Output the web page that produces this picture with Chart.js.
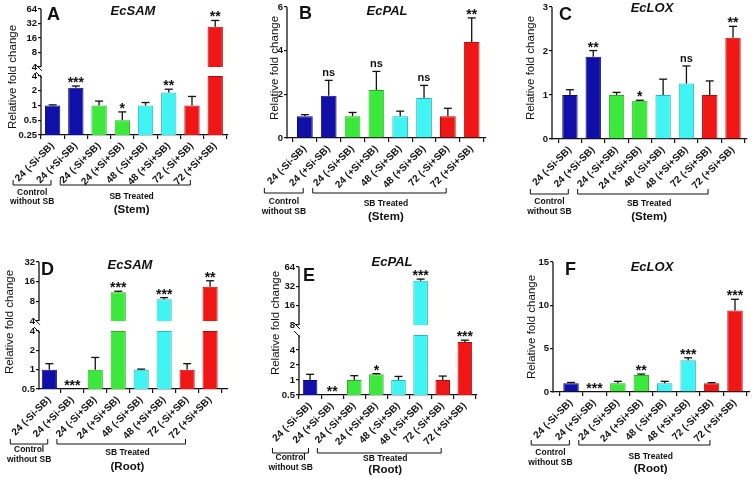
<!DOCTYPE html>
<html>
<head>
<meta charset="utf-8">
<script src="https://cdn.jsdelivr.net/npm/chart.js"></script>
<style>
  html, body { margin: 0; padding: 0; background: #fff; }
  #wrap { position: relative; width: 755px; height: 479px; overflow: hidden; }
  canvas { position: absolute; }
</style>
</head>
<body>
<div id="wrap">
  <canvas id="pA" width="250" height="240" style="left:0;top:0"></canvas>
  <canvas id="pB" width="250" height="240" style="left:250px;top:0"></canvas>
  <canvas id="pC" width="255" height="240" style="left:500px;top:0"></canvas>
  <canvas id="pD" width="250" height="239" style="left:0;top:240px"></canvas>
  <canvas id="pE" width="250" height="239" style="left:250px;top:240px"></canvas>
  <canvas id="pF" width="255" height="239" style="left:500px;top:240px"></canvas>
</div>
<script>
const FONT = '"Liberation Sans", Arial, sans-serif';

const categories = ['24 (-Si-SB)', '24 (+Si-SB)', '24 (-Si+SB)', '24 (+Si+SB)',
  '48 (-Si+SB)', '48 (+Si+SB)', '72 (-Si+SB)', '72 (+Si+SB)'];
const barColors = ['#1010a8', '#1010a8', '#3de83d', '#3de83d', '#40f4f4', '#40f4f4', '#f01616', '#f01616'];
const barEdges = ['#0a0a70', '#0a0a70', '#28b028', '#28b028', '#28b8b8', '#28b8b8', '#b00e0e', '#b00e0e'];

// (Stem)
const samStemVals = [1.0, 2.3, 1.0, 0.5, 1.0, 1.85, 1.0, 27.5];
const samStemErr = [1.03, 2.5, 1.23, 0.74, 1.15, 2.15, 1.53, 37];
const samStemSig = ['', '***', '', '*', '', '**', '', '**'];
const samStemTicksLo = [0.25, 0.5, 1, 2, 4];
const samStemTicksHi = [4, 8, 16, 32, 64];

const palStemVals = [1.0, 1.94, 1.0, 2.2, 1.0, 1.83, 1.0, 4.4];
const palStemErr = [1.07, 2.64, 1.17, 3.05, 1.23, 2.41, 1.36, 5.5];
const palStemSig = ['', 'ns', '', 'ns', '', 'ns', '', '**'];
const palStemTicks = [0, 2, 4, 6];

const loxStemVals = [1.0, 1.87, 1.0, 0.87, 1.0, 1.26, 1.0, 2.3];
const loxStemErr = [1.12, 2.01, 1.06, 0.88, 1.36, 1.66, 1.32, 2.56];
const loxStemSig = ['', '**', '', '*', '', 'ns', '', '**'];
const loxStemTicks = [0, 1, 2, 3];

// (Root)
const samRootVals = [1.0, 0, 1.0, 11.0, 1.0, 8.6, 1.0, 13.3];
const samRootErr = [1.24, 0, 1.55, 11.4, 1.02, 9.1, 1.24, 16.5];
const samRootSig = ['', '***', '', '***', '', '***', '', '**'];
const samRootTicksLo = [0.5, 1, 2, 4];
const samRootTicksHi = [4, 8, 16, 32];

const palRootVals = [1.0, 0, 1.0, 1.3, 1.0, 39, 1.0, 5.8];
const palRootErr = [1.3, 0, 1.22, 1.34, 1.18, 41.5, 1.2, 6.3];
const palRootSig = ['', '**', '', '*', '', '***', '', '***'];
const palRootTicksLo = [0.5, 1, 2, 4];
const palRootTicksHi = [8, 16, 32, 64];

const loxRootVals = [1.0, 0, 1.0, 1.96, 1.0, 3.65, 1.0, 9.4];
const loxRootErr = [1.1, 0, 1.23, 2.07, 1.23, 3.95, 1.08, 10.7];
const loxRootSig = ['', '***', '', '**', '', '***', '', '***'];
const loxRootTicks = [0, 5, 10, 15];

// group brackets under the x labels, in category units
const groupControl = [-1.7, -0.07];
const groupTreated = [0.33, 5.93];

const panels = [
  { id: 'pA', x: 0, y: 0, w: 250, h: 240, area: [41, 9, 228, 135], xRange: [-0.5, 7.55],
    letter: 'A', letterX: 6, letterY: 11, gene: 'EcSAM', geneX: 133, geneY: 11, tissue: '(Stem)',
    yTitleX: 13, yTitleY: 77, bY: 45, gY: [13, 22, 17, 30],
    vals: samStemVals, errs: samStemErr, sig: samStemSig,
    lo: { type: 'logarithmic', min: 0.25, max: 4, ticks: samStemTicksLo, weight: 59 },
    hi: { min: 2.6, base: 4, max: 64, ticks: samStemTicksHi, weight: 67 } },
  { id: 'pB', x: 250, y: 0, w: 250, h: 240, area: [287, 7, 486, 138], xRange: [-0.75, 7.6],
    letter: 'B', letterX: 12, letterY: 12, gene: 'EcPAL', geneX: 137, geneY: 11, tissue: '(Stem)',
    yTitleX: 25, yTitleY: 68, bY: 50, gY: [14, 24, 16, 29],
    vals: palStemVals, errs: palStemErr, sig: palStemSig,
    lo: { type: 'linear', min: 0, max: 6, ticks: palStemTicks } },
  { id: 'pC', x: 500, y: 0, w: 255, h: 240, area: [552, 7, 747, 139], xRange: [-0.77, 7.6],
    letter: 'C', letterX: 7, letterY: 13, gene: 'EcLOX', geneX: 152, geneY: 8, tissue: '(Stem)',
    yTitleX: 31, yTitleY: 68, bY: 50, gY: [13, 23, 15, 28],
    vals: loxStemVals, errs: loxStemErr, sig: loxStemSig,
    lo: { type: 'linear', min: 0, max: 3, ticks: loxStemTicks } },
  { id: 'pD', x: 0, y: 240, w: 250, h: 239, area: [39, 262, 228, 389], xRange: [-0.45, 7.78],
    letter: 'D', letterX: 2, letterY: 13, gene: 'EcSAM', geneX: 130, geneY: 25, tissue: '(Root)',
    yTitleX: 10, yTitleY: 82, bY: 50, gY: [11, 21, 14, 28],
    vals: samRootVals, errs: samRootErr, sig: samRootSig,
    lo: { type: 'logarithmic', min: 0.5, max: 4, ticks: samRootTicksLo, weight: 58 },
    hi: { min: 2.8, base: 4, max: 32, ticks: samRootTicksHi, weight: 69 } },
  { id: 'pE', x: 250, y: 240, w: 250, h: 239, area: [299, 267, 477, 395], xRange: [-0.5, 7.55],
    letter: 'E', letterX: 4, letterY: 14, gene: 'EcPAL', geneX: 142, geneY: 22, tissue: '(Root)',
    yTitleX: 26, yTitleY: 83, bY: 53, gY: [10, 20, 11, 22],
    vals: palRootVals, errs: palRootErr, sig: palRootSig,
    lo: { type: 'logarithmic', min: 0.5, max: 8, ticks: palRootTicksLo, weight: 60 },
    hi: { min: 5.6, base: 8, max: 64, ticks: palRootTicksHi, weight: 68 } },
  { id: 'pF', x: 500, y: 240, w: 255, h: 239, area: [553, 262, 750, 392], xRange: [-0.77, 7.64],
    letter: 'F', letterX: 12, letterY: 13, gene: 'EcLOX', geneX: 152, geneY: 27, tissue: '(Root)',
    yTitleX: 32, yTitleY: 87, bY: 48, gY: [13, 23, 17, 29],
    vals: loxRootVals, errs: loxRootErr, sig: loxRootSig,
    lo: { type: 'linear', min: 0, max: 15, ticks: loxRootTicks } }
];

function line(ctx, x1, y1, x2, y2) {
  ctx.beginPath();
  ctx.moveTo(x1, y1);
  ctx.lineTo(x2, y2);
  ctx.stroke();
}

// axis lines, breaks, error bars, stars, titles and group brackets
function decor(p) {
  return {
    id: 'decor',
    afterDraw(chart) {
      const ctx = chart.ctx;
      const ca = chart.chartArea;
      const xs = chart.scales.x;
      const yLo = chart.scales.yLo;
      const yHi = chart.scales.yHi;
      const yOf = v => {
        if (v <= 0) return ca.bottom;
        if (yHi && v > p.lo.max) return yHi.getPixelForValue(v);
        return yLo.getPixelForValue(v);
      };
      ctx.save();
      ctx.strokeStyle = '#111';
      ctx.fillStyle = '#111';
      ctx.lineWidth = 1.3;

      // y axis
      const ax = ca.left;
      line(ctx, ax, ca.bottom + 0.6, ax, yLo.getPixelForValue(p.lo.max));
      if (yHi) {
        const y1 = yLo.getPixelForValue(p.lo.max);
        const y2 = yHi.getPixelForValue(p.hi.base);
        line(ctx, ax, y2, ax, yHi.getPixelForValue(p.hi.max));
        ctx.lineWidth = 1;
        line(ctx, ax - 5, y1 - 4, ax + 1, y1 + 2);
        line(ctx, ax - 5, y2 - 2, ax + 1, y2 + 4);
        ctx.lineWidth = 1.3;
      }

      // error bars
      p.vals.forEach((v, i) => {
        const e = p.errs[i];
        if (v > 0 && e > v) {
          const x = xs.getPixelForValue(i);
          const yt = yOf(e);
          line(ctx, x, yOf(v), x, yt);
          line(ctx, x - 4, yt, x + 4, yt);
        }
      });

      // significance marks
      ctx.textAlign = 'center';
      ctx.textBaseline = 'alphabetic';
      p.sig.forEach((s, i) => {
        if (!s) return;
        const x = xs.getPixelForValue(i);
        const y = yOf(p.errs[i] > 0 ? p.errs[i] : 0);
        if (s === 'ns') {
          ctx.font = 'bold 11px ' + FONT;
          ctx.fillText(s, x, y - 4);
        } else {
          ctx.font = 'bold 14px ' + FONT;
          ctx.fillText(s, x, y + 1);
        }
      });

      // gene title and panel letter
      ctx.font = 'italic bold 13px ' + FONT;
      ctx.textBaseline = 'middle';
      ctx.fillText(p.gene, p.geneX, p.geneY);
      ctx.font = 'bold 18px ' + FONT;
      ctx.textAlign = 'left';
      ctx.textBaseline = 'alphabetic';
      ctx.fillText(p.letter, ca.left + p.letterX, ca.top + p.letterY);

      // y title
      ctx.save();
      ctx.translate(p.yTitleX, p.yTitleY);
      ctx.rotate(-Math.PI / 2);
      ctx.textAlign = 'center';
      ctx.textBaseline = 'middle';
      ctx.font = '11.5px ' + FONT;
      ctx.fillText('Relative fold change', 0, 0);
      ctx.restore();

      // group brackets
      const by = ca.bottom + p.bY;
      ctx.lineWidth = 1;
      [groupControl, groupTreated].forEach(g => {
        const xa = xs.getPixelForValue(g[0]);
        const xb = xs.getPixelForValue(g[1]);
        ctx.beginPath();
        ctx.moveTo(xa, by);
        ctx.lineTo(xa, by + 5);
        ctx.lineTo(xb, by + 5);
        ctx.lineTo(xb, by);
        ctx.stroke();
      });
      ctx.textAlign = 'center';
      ctx.textBaseline = 'middle';
      ctx.font = 'bold 8.5px ' + FONT;
      const xc = xs.getPixelForValue(-0.88);
      ctx.fillText('Control', xc, by + p.gY[0]);
      ctx.fillText('without SB', xc, by + p.gY[1]);
      const xt = xs.getPixelForValue(3.4);
      ctx.fillText('SB Treated', xt, by + p.gY[2]);
      ctx.font = 'bold 11.5px ' + FONT;
      ctx.fillText(p.tissue, xt, by + p.gY[3]);
      ctx.restore();
    }
  };
}

function yScale(p, o, type) {
  return {
    type: type,
    position: 'left',
    min: o.min,
    max: o.max,
    bounds: 'data',
    afterBuildTicks: s => { s.ticks = o.ticks.map(v => ({ value: v })); },
    afterFit: s => { s.width = p.area[0] - p.x; },
    ticks: {
      autoSkip: false,
      padding: 1,
      color: '#111',
      font: { family: FONT, size: 9.5, weight: 'bold' },
      callback: v => String(v)
    },
    grid: { display: true, drawOnChartArea: false, drawTicks: true, tickLength: 3, color: '#111', lineWidth: 1.2 },
    border: { display: false }
  };
}

function buildPanel(p) {
  const [l, t, r, b] = p.area;
  const lo = p.lo;
  const hi = p.hi;
  const datasets = [{
    yAxisID: 'yLo',
    data: p.vals.map((v, i) => ({ x: i, y: v > 0 ? [lo.min, Math.min(v, lo.max)] : null })),
    backgroundColor: barColors,
    borderColor: barEdges,
    borderWidth: 1,
    barPercentage: 0.66,
    categoryPercentage: 1,
    grouped: false
  }];
  const scales = {
    x: {
      type: 'linear',
      min: p.xRange[0],
      max: p.xRange[1],
      bounds: 'data',
      offset: false,
      afterBuildTicks: s => { s.ticks = categories.map((c, i) => ({ value: i })); },
      afterFit: s => { s.height = p.y + p.h - b; },
      ticks: {
        autoSkip: false,
        minRotation: 45,
        maxRotation: 45,
        padding: 1,
        color: '#111',
        font: { family: FONT, size: 10, weight: 'bold' },
        callback: v => categories[v]
      },
      grid: { display: true, drawOnChartArea: false, drawTicks: true, tickLength: 4, color: '#111', lineWidth: 1.2 },
      border: { display: true, color: '#111', width: 1.3 }
    },
    yLo: yScale(p, lo, lo.type)
  };
  if (hi) {
    datasets.push({
      yAxisID: 'yHi',
      data: p.vals.map((v, i) => ({ x: i, y: v > hi.base ? [hi.base, v] : null })),
      backgroundColor: barColors,
      borderColor: barEdges,
      borderWidth: 1,
      barPercentage: 0.66,
      categoryPercentage: 1,
      grouped: false
    });
    scales.yLo.stack = 'y';
    scales.yLo.stackWeight = lo.weight;
    scales.yHi = yScale(p, hi, 'logarithmic');
    scales.yHi.stack = 'y';
    scales.yHi.stackWeight = hi.weight;
  }

  new Chart(document.getElementById(p.id), {
    type: 'bar',
    data: { datasets },
    options: {
      responsive: false,
      animation: false,
      devicePixelRatio: 1,
      layout: { padding: { left: 0, top: t - p.y, right: p.x + p.w - r, bottom: 0 } },
      plugins: { legend: { display: false }, tooltip: { enabled: false } },
      scales
    },
    plugins: [decor(p)]
  });
}

panels.forEach(buildPanel);
</script>
</body>
</html>
